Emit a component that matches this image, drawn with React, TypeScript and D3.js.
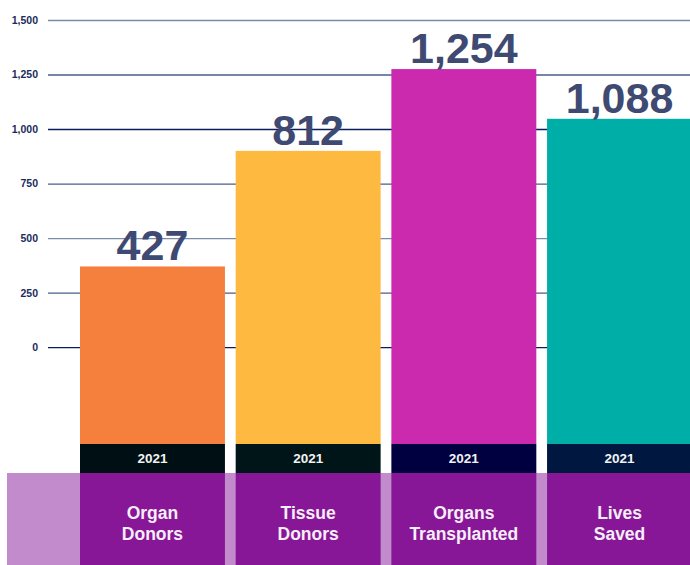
import { useEffect, useRef } from 'react'
import * as d3 from 'd3'

// categories and values
const categories = ['Organ Donors', 'Tissue Donors', 'Organs Transplanted', 'Lives Saved']
const labelLines = [['Organ', 'Donors'], ['Tissue', 'Donors'], ['Organs', 'Transplanted'], ['Lives', 'Saved']]
const valueLabels = [427, 812, 1254, 1088]
// bar heights as drawn against the axis (they don't follow the labels)
const barValues = [370, 900, 1275, 1047]
const years = ['2021', '2021', '2021', '2021']
const yTicks = [0, 250, 500, 750, 1000, 1250, 1500]

const barColors = ['#f5803e', '#fdb940', '#cb2aae', '#00aea8']
const yearColors = ['#000f14', '#001518', '#000040', '#00173f']

const W = 690
const H = 565
const FONT = '"Liberation Sans", Arial, sans-serif'

function App() {
  const axisRef = useRef<SVGGElement>(null)

  const x = d3.scaleBand<string>().domain(categories).range([80, 692]).paddingInner(0.069).paddingOuter(0)
  // domain goes below zero: the bars start at the year band, not at the 0 line
  const y = d3.scaleLinear().domain([-444, 1500]).range([444, 20])

  const bandTop = 444
  const bandBottom = 473

  useEffect(() => {
    if (!axisRef.current) return
    const g = d3.select(axisRef.current)
    g.selectAll('*').remove()
    g.call(
      d3
        .axisLeft(y)
        .tickValues(yTicks)
        .tickSize(-(W - 48))
        .tickPadding(10)
        .tickFormat((d) => d3.format(',')(d as number))
    )
    g.select('.domain').remove()
    g.selectAll('.tick line')
      .attr('stroke', (d: any) => (d % 1000 === 0 ? '#0b1d5a' : d % 500 === 0 ? '#7b8bab' : '#4b5c88'))
      .attr('stroke-width', 1.4)
    g.selectAll('.tick text')
      .attr('fill', '#1c2b5e')
      .style('font-family', FONT)
      .style('font-size', '10.5px')
      .style('font-weight', 'bold')
  }, [])

  return (
    <div style={{ position: 'absolute', left: 0, top: 0 }}>
      <svg width={W} height={H} style={{ display: 'block' }}>
        <rect x={0} y={0} width={W} height={H} fill="#fff" />
        <g ref={axisRef} transform="translate(48,0)" />

        {categories.map((c, i) => (
          <rect
            key={'bar' + c}
            x={x(c)}
            y={y(barValues[i])}
            width={x.bandwidth()}
            height={bandTop - y(barValues[i])}
            fill={barColors[i]}
          />
        ))}

        {categories.map((c, i) => (
          <text
            key={'val' + c}
            x={(x(c) as number) + x.bandwidth() / 2}
            y={y(barValues[i]) - 6}
            textAnchor="middle"
            fill="#3f4a72"
            style={{ fontFamily: FONT, fontSize: 43, fontWeight: 'bold' }}
          >
            {d3.format(',')(valueLabels[i])}
          </text>
        ))}

        {categories.map((c, i) => (
          <g key={'year' + c}>
            <rect x={x(c)} y={bandTop} width={x.bandwidth()} height={bandBottom - bandTop} fill={yearColors[i]} />
            <text
              x={(x(c) as number) + x.bandwidth() / 2}
              y={463}
              textAnchor="middle"
              fill="#f2f2f2"
              style={{ fontFamily: FONT, fontSize: 13.5, fontWeight: 'bold' }}
            >
              {years[i]}
            </text>
          </g>
        ))}

        <rect x={7} y={bandBottom} width={W - 7} height={H - bandBottom} fill="#c18bcc" />
        {categories.map((c, i) => (
          <g key={'cat' + c}>
            <rect x={x(c)} y={bandBottom} width={x.bandwidth()} height={H - bandBottom} fill="#871797" />
            {labelLines[i].map((line, j) => (
              <text
                key={line}
                x={(x(c) as number) + x.bandwidth() / 2}
                y={518.5 + j * 21}
                textAnchor="middle"
                fill="#f6eef8"
                style={{ fontFamily: FONT, fontSize: 17.5, fontWeight: 'bold' }}
              >
                {line}
              </text>
            ))}
          </g>
        ))}
      </svg>
    </div>
  )
}

export default App
